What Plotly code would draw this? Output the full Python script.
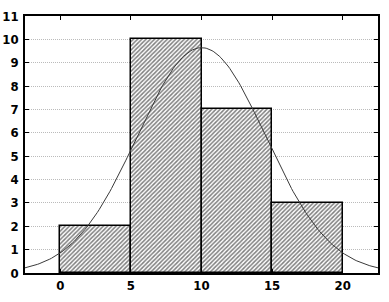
import numpy as np
import plotly.graph_objects as go

bin_centers = [2.5, 7.5, 12.5, 17.5]
bin_counts = [2, 10, 7, 3]
bin_width = 5
x_ticks = [0, 5, 10, 15, 20]
y_ticks = list(range(0, 12))

# fitted normal curve parameters
fit_mean = 10.0
fit_sd = 4.55
n_obs = sum(bin_counts)

xs = np.linspace(-2.5, 22.5, 201)
ys = n_obs * bin_width / (fit_sd * np.sqrt(2 * np.pi)) * np.exp(-0.5 * ((xs - fit_mean) / fit_sd) ** 2)

fig = go.Figure()
fig.add_trace(go.Bar(
    x=bin_centers, y=bin_counts, width=[bin_width] * len(bin_counts),
    marker=dict(color="white", line=dict(color="black", width=1.5),
                pattern=dict(shape="/", fgcolor="black", bgcolor="white", size=3, solidity=0.5)),
    showlegend=False,
))
fig.add_trace(go.Scatter(x=xs, y=ys, mode="lines", line=dict(color="#3a3a3a", width=1), showlegend=False))

font = dict(family="DejaVu Sans Condensed", size=13, color="black", weight="bold")
fig.update_layout(
    width=389, height=302, margin=dict(l=25, r=11, t=16, b=29),
    paper_bgcolor="white", plot_bgcolor="white", bargap=0,
    xaxis=dict(range=[-2.5, 22.5], tickvals=x_ticks, showgrid=False, zeroline=False,
               showline=True, linecolor="black", linewidth=1.5, mirror="ticks", automargin=False,
               ticks="inside", ticklen=4, tickcolor="black", tickfont=font),
    yaxis=dict(range=[0, 11], tickvals=y_ticks, showgrid=True, gridcolor="#bbb", griddash="1px,1px",
               gridwidth=1, zeroline=False, showline=True, linecolor="black", linewidth=1.5,
               mirror="ticks", ticks="inside", ticklen=4, tickcolor="black", tickfont=font,
               automargin=False, ticklabelstandoff=2),
)
fig.write_html("out.html")
